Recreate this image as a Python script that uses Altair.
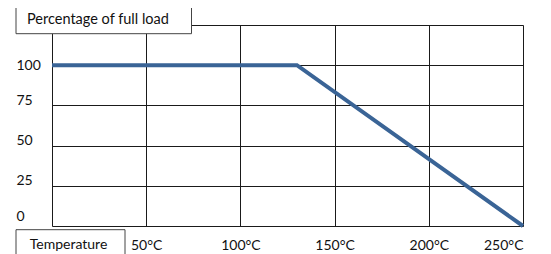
import altair as alt
import pandas as pd

# data
temps = [0, 130, 250]
load = [100, 100, 0]
x_ticks = [0, 50, 100, 150, 200, 250]
y_ticks = [0, 25, 50, 75, 100, 125]
y_title = "Percentage of full load"
x_title = "Temperature"

df = pd.DataFrame({"temp": temps, "load": load})

FONT = "Lato"
TXT = "#111111"

x_scale = alt.Scale(domain=[0, 250], nice=False, zero=False)
y_scale = alt.Scale(domain=[0, 125], nice=False)

line = alt.Chart(df).mark_line(color="#3a6496", strokeWidth=4).encode(
    x=alt.X("temp:Q", scale=x_scale,
            axis=alt.Axis(values=x_ticks, title=None, grid=True, gridColor="#1a1a1a",
                          gridOpacity=1, gridWidth=1, domain=False, ticks=False,
                          tickSize=0, labelPadding=23, labelBaseline="alphabetic",
                          labelFont=FONT, labelFontSize=14, labelColor=TXT,
                          labelExpr="datum.value == 0 ? '' : datum.label + '°C'")),
    y=alt.Y("load:Q", scale=y_scale,
            axis=alt.Axis(values=y_ticks, title=None, grid=True, gridColor="#1a1a1a",
                          gridOpacity=1, gridWidth=1, domain=False, ticks=False,
                          tickSize=0, labelPadding=36, labelAlign="left",
                          labelOffset={"condition": [{"test": "datum.value == 100", "value": 0},
                                                     {"test": "datum.value == 0", "value": -10}],
                                       "value": -5},
                          labelFont=FONT, labelFontSize=14, labelColor=TXT,
                          labelExpr="datum.value == 125 ? '' : datum.label")),
)

box_data = pd.DataFrame({"t": [y_title]})
ybox = alt.Chart(box_data).mark_rect(fill="white", stroke="#444444", strokeWidth=1).encode(
    x=alt.value(-36), x2=alt.value(139.5), y=alt.value(-19.3), y2=alt.value(8.7))
ytext = alt.Chart(box_data).mark_text(font=FONT, fontSize=14.5, color=TXT, align="left",
                                      baseline="middle").encode(
    x=alt.value(-25), y=alt.value(-5.5), text="t:N")

xbox_data = pd.DataFrame({"t": [x_title]})
xbox = alt.Chart(xbox_data).mark_rect(fill="white", stroke="#444444", strokeWidth=1).encode(
    x=alt.value(-36), x2=alt.value(73), y=alt.value(204.7), y2=alt.value(240))
xtext = alt.Chart(xbox_data).mark_text(font=FONT, fontSize=14, color=TXT, align="center",
                                       baseline="middle").encode(
    x=alt.value(16.5), y=alt.value(220), text="t:N")

chart = alt.layer(line, ybox, ytext, xbox, xtext).properties(
    width=471, height=201,
    padding={"left": 44, "top": 17, "right": 20, "bottom": 28},
    autosize="none",
).configure_view(stroke=None).configure(background="white")

chart.save("out.html", embed_options={"renderer": "svg", "actions": False})
